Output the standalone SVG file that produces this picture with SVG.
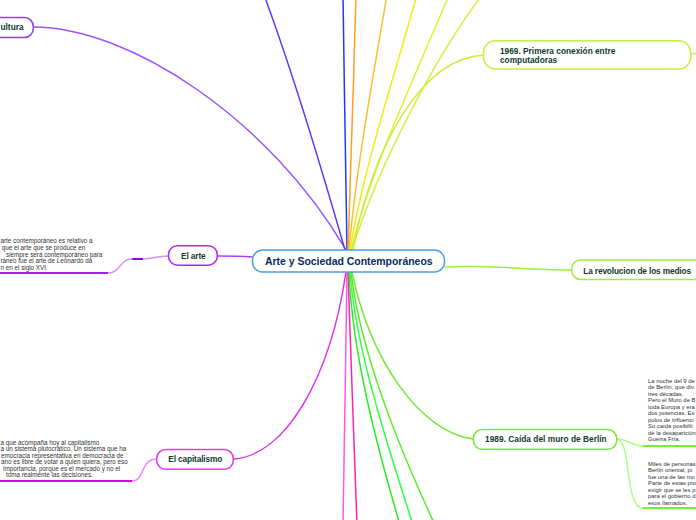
<svg xmlns="http://www.w3.org/2000/svg" width="696" height="520" viewBox="0 0 696 520">
<style>
.c{fill:none;stroke-width:1.5;stroke-linecap:round}
.u{fill:none;stroke-width:2}
.n{fill:#fff;stroke-width:1.5}
.l{font-family:"Liberation Sans",Arial,sans-serif;font-weight:bold;font-size:8.3px;fill:#0f3b2b}
.t{font-family:"Liberation Sans",Arial,sans-serif;font-size:6.3px;fill:#333}
.r{font-family:"Liberation Sans",Arial,sans-serif;font-size:5.9px;fill:#333}
</style>
<rect width="696" height="520" fill="#fff"/>
<g id="connectors">
<path class="c" stroke="#9955ff" d="M346,250 C270,120 130,27 33,27"/>
<path class="c" stroke="#5b3df5" d="M345,250 C322,170 292,70 264,-5"/>
<path class="c" stroke="#1a3cff" stroke-width="3.5" d="M347,250 C346,170 344,80 343,-5"/>
<path class="c" stroke="#ff9f1c" d="M348,250 C350,170 354,80 356,-5"/>
<path class="c" stroke="#ffbe2e" d="M349,250 C356,170 374,70 387,-5"/>
<path class="c" stroke="#f3ec1a" d="M350,250 C363,170 396,70 417,-5"/>
<path class="c" stroke="#d6f52a" d="M351,250 C370,170 418,70 449,-5"/>
<path class="c" stroke="#d4f040" d="M352,250 C380,160 440,50 482,-5"/>
<path class="c" stroke="#c5f03c" d="M353,250 C372,150 420,58 484,55"/>
<path class="c" stroke="#c5f03c" d="M691,54 L697,53"/>
<path class="c" stroke="#b040f5" d="M252,257 C240,256 230,256 217,256"/>
<path class="c" stroke="#9cef3c" d="M445,267 C500,265 520,270 571,270"/>
<path class="c" stroke="#dd33ee" d="M346,272 C330,380 285,455 234,459"/>
<path class="c" stroke="#ff55ee" d="M347,272 C346,350 344,450 343,525"/>
<path class="c" stroke="#ff22aa" d="M348,272 C350,350 355,450 357,525"/>
<path class="c" stroke="#22ee22" d="M349,272 C352,350 375,440 400,525"/>
<path class="c" stroke="#33ff44" d="M350,272 C356,350 386,440 413,525"/>
<path class="c" stroke="#55ee22" d="M351,272 C360,350 400,450 435,525"/>
<path class="c" stroke="#77e83a" d="M352,272 C370,360 420,432 473,439"/>
<path class="c" stroke="#d090ff" stroke-width="1" d="M168,256 C158,256 152,259 143,259"/>
<path class="u" stroke="#9900dd" d="M132,259 L143,259"/>
<path class="c" stroke="#d090ff" stroke-width="1" d="M132,259 C120,259 120,273 108,273"/>
<path class="u" stroke="#a020f0" d="M0,273 L108,273"/>
<path class="c" stroke="#ee88ff" stroke-width="1" d="M157,459 C140,459 145,481 132,481"/>
<path class="u" stroke="#dd00dd" d="M0,481 L132,481"/>
<path class="c" stroke="#aaff88" stroke-width="1" d="M617,439 C630,439 630,446 643,446"/>
<path class="u" stroke="#77ee33" d="M643,446 L696,446"/>
<path class="c" stroke="#aaff88" stroke-width="1" d="M617,439 C632,440 624,508 643,508"/>
<path class="u" stroke="#77ee33" d="M643,508 L696,508"/>
</g>
<g id="center">
<rect class="n" stroke="#4a9fe0" x="252.5" y="250" width="192" height="22" rx="10"/>
<text x="348.8" y="264.5" text-anchor="middle" textLength="167.7" font-family="Liberation Sans,Arial,sans-serif" font-weight="bold" font-size="10.5" fill="#0c2d57">Arte y Sociedad Contemporáneos</text>
</g>
<g id="cultura">
<rect class="n" stroke="#8a3dff" x="-40" y="17.5" width="73.3" height="20" rx="9"/>
<text class="l" x="0.5" y="30.3">ultura</text>
</g>
<g id="el-arte">
<rect class="n" stroke="#b026ff" x="168.5" y="245.7" width="48.8" height="19.5" rx="9"/>
<text class="l" x="181" y="258.5" textLength="24.7">El arte</text>
</g>
<g id="el-arte-nota">
<text class="t" x="0.5" y="243">arte contemporáneo es relativo a</text>
<text class="t" x="1.7" y="250">que el arte que se produce en</text>
<text class="t" x="6" y="256.5">siempre será contemporáneo para</text>
<text class="t" x="0.5" y="263">ráneo fue el arte de Leonardo da</text>
<text class="t" x="0.5" y="269.5">n en el siglo XVI.</text>
</g>
<g id="el-capitalismo">
<rect class="n" stroke="#e837e8" x="156.7" y="449.5" width="76.6" height="19.8" rx="9"/>
<text class="l" x="168.3" y="462.2" textLength="54">El capitalismo</text>
</g>
<g id="el-capitalismo-nota">
<text class="t" x="0.5" y="444.5">a que acompaña hoy al capitalismo</text>
<text class="t" x="0.5" y="451">a un sistema plutocrático. Un sistema que ha</text>
<text class="t" x="1" y="457.5">emocracia representativa en democracia de</text>
<text class="t" x="1" y="464">ano es libre de votar a quien quiera, pero eso</text>
<text class="t" x="3" y="470.5">importancia, porque es el mercado y no el</text>
<text class="t" x="6" y="477">toma realmente las decisiones.</text>
</g>
<g id="n1969">
<rect class="n" stroke="#c5f03c" x="483.5" y="40.7" width="207.2" height="28.3" rx="12"/>
<text class="l" x="500" y="53.5">1969. Primera conexión entre</text>
<text class="l" x="500" y="63">computadoras</text>
</g>
<g id="revolucion">
<rect class="n" stroke="#9cef3c" x="571.7" y="260" width="140" height="19.5" rx="9"/>
<text class="l" x="583.3" y="273.6" textLength="107.7">La revolucion de los medios</text>
</g>
<g id="n1989">
<rect class="n" stroke="#7de83a" x="473.3" y="429.5" width="143.4" height="19.8" rx="9"/>
<text class="l" x="485" y="442.2" textLength="121.7">1989. Caída del muro de Berlín</text>
</g>
<g id="n1989-nota1">
<text class="r" x="648" y="382.5">La noche del 9 de</text>
<text class="r" x="648" y="389">de Berlín, que div</text>
<text class="r" x="648" y="395.5">tres décadas.</text>
<text class="r" x="648" y="402">Pero el Muro de B</text>
<text class="r" x="648" y="408.5">toda Europa y era</text>
<text class="r" x="648" y="415">dos potencias. Es</text>
<text class="r" x="648" y="421.5">polos de influenci</text>
<text class="r" x="648" y="428">Su caída posibilit</text>
<text class="r" x="648" y="434.5">de la desaparición</text>
<text class="r" x="648" y="441">Guerra Fría.</text>
</g>
<g id="n1989-nota2">
<text class="r" x="648" y="465.5">Miles de personas</text>
<text class="r" x="648" y="472">Berlín oriental, pi</text>
<text class="r" x="648" y="478.5">fue una de las mo</text>
<text class="r" x="648" y="485">Parte de estas pro</text>
<text class="r" x="648" y="491.5">exigir que se les p</text>
<text class="r" x="648" y="498">para el gobierno d</text>
<text class="r" x="648" y="504.5">esos llamados.</text>
</g>
</svg>
